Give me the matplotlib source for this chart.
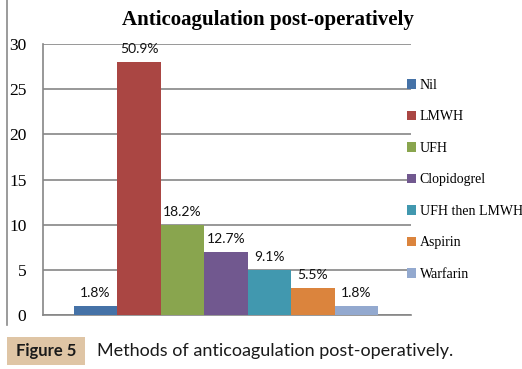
import numpy as np
import matplotlib
matplotlib.use("Agg")
import matplotlib.pyplot as plt
from matplotlib.patches import Patch, Rectangle
from matplotlib.lines import Line2D

categories = ["Nil", "LMWH", "UFH", "Clopidogrel", "UFH then LMWH", "Aspirin", "Warfarin"]
counts = [1, 28, 10, 7, 5, 3, 1]
pct_labels = ["1.8%", "50.9%", "18.2%", "12.7%", "9.1%", "5.5%", "1.8%"]
colors = ["#4572A7", "#AA4643", "#89A54E", "#71588F", "#4198AF", "#DB843D", "#93A9CF"]
yticks = [0, 5, 10, 15, 20, 25, 30]

W, H = 522, 369
fig = plt.figure(figsize=(W / 100, H / 100), dpi=100)

def fx(px):
    return px / W

def fy(py):
    return 1 - py / H

serif = "Liberation Serif"
sans = "Lato"

ax = fig.add_axes([fx(43), fy(315), fx(411) - fx(43), fy(44) - fy(315)])
x = np.arange(len(categories)) - 3
bars = ax.bar(x, counts, width=1, color=colors, zorder=3)

for xi, v, lab in zip(x, counts, pct_labels):
    ax.annotate(lab, (xi, v), xytext=(0, 5), textcoords="offset points",
                ha="center", va="bottom", fontsize=10, family=sans, color="#111111")

ax.set_xlim(-4.21, 4.26)
ax.set_ylim(0, 30)
ax.set_yticks(yticks)
ax.set_yticklabels([str(t) for t in yticks], family=serif, fontsize=12.5)
ax.set_xticks([])
ax.tick_params(axis="y", length=0, pad=12)
ax.yaxis.grid(True, color="#868686", linewidth=1.2, zorder=0)
for s in ["top", "right"]:
    ax.spines[s].set_visible(False)
for s in ["left", "bottom"]:
    ax.spines[s].set_color("#868686")
    ax.spines[s].set_linewidth(1.2)

fig.text(fx(268), fy(20), "Anticoagulation post-operatively", ha="center", va="center",
         family=serif, fontweight="bold", fontsize=15)

handles = [Patch(facecolor=c, edgecolor="none") for c in colors]
fig.legend(handles, categories, loc="upper left", bbox_to_anchor=(fx(407), fy(79)),
           frameon=False, borderpad=0, borderaxespad=0, handlelength=0.65,
           handleheight=0.65, handletextpad=0.25, labelspacing=1.33,
           prop={"family": serif, "size": 10})

# chart frame left edge
fig.add_artist(Line2D([fx(7), fx(7)], [1, fy(325)], color="#8a8a8a", linewidth=1.2))

# caption
fig.add_artist(Rectangle((fx(7), fy(365)), fx(85) - fx(7), fy(337) - fy(365),
                         facecolor="#DFC5A5", edgecolor="none"))
fig.text(fx(46), fy(351), "Figure 5", ha="center", va="center", family=sans,
         fontweight="bold", fontsize=12, color="#1a1a1a")
fig.text(fx(97), fy(351), "Methods of anticoagulation post-operatively.", ha="left",
         va="center", family=sans, fontsize=13, color="#1a1a1a")

fig.savefig("out.png", dpi=100)
